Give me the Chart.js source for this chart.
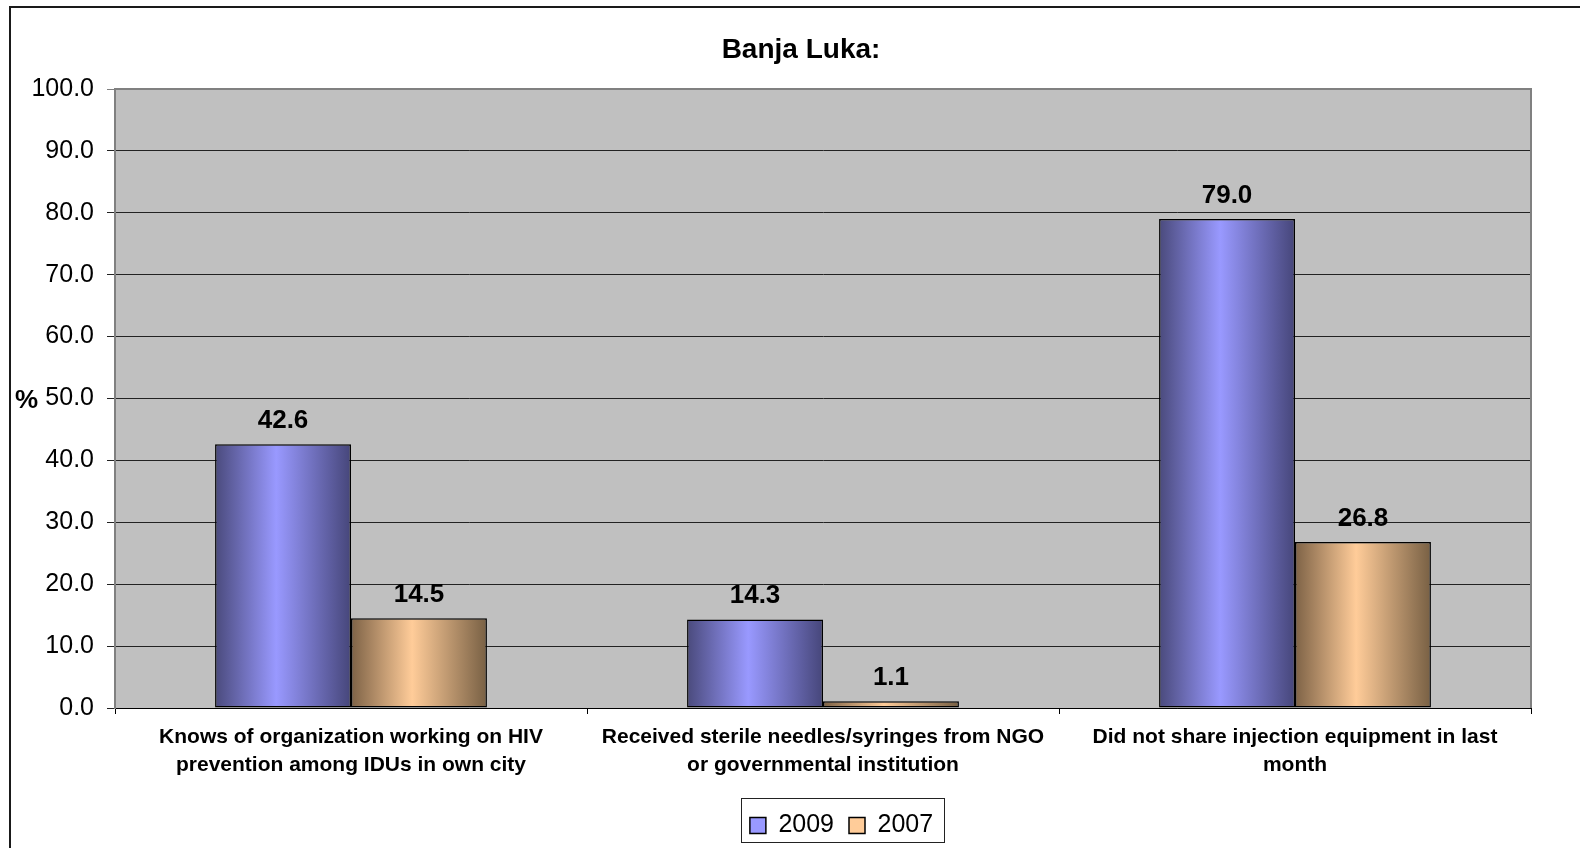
<!DOCTYPE html>
<html><head><meta charset="utf-8">
<script src="https://cdn.jsdelivr.net/npm/chart.js@4/dist/chart.umd.min.js"></script>
<style>html,body{margin:0;padding:0;background:#fff;overflow:hidden;}</style>
</head><body>
<canvas id="c" width="1580" height="848" style="display:block;width:1580px;height:848px"></canvas>
<script>
const categories = [
  ["Knows of organization working on HIV", "prevention among IDUs in own city"],
  ["Received sterile needles/syringes from NGO", "or governmental institution"],
  ["Did not share injection equipment in last", "month"]
];
const seriesNames = ["2009", "2007"];
const values2009 = [42.6, 14.3, 79.0];
const values2007 = [14.5, 1.1, 26.8];
const chartTitle = "Banja Luka:";
const yAxisLabel = "%";
const yMin = 0, yMax = 100, yStep = 10;

const FONT = "'Liberation Sans', Arial, sans-serif";
const baseColors = ["#9999ff", "#ffcc99"];
const gradStops = [
  ["#4a4a7c", "#9999ff", "#46467a"],
  ["#7d6246", "#ffcc99", "#786044"]
];

const decor = {
  id: 'decor',
  beforeDraw(chart) {
    const {ctx, chartArea: a} = chart;
    ctx.save();
    ctx.fillStyle = '#fff';
    ctx.fillRect(0, 0, chart.width, chart.height);
    ctx.strokeStyle = '#1a1a1a';
    ctx.lineWidth = 2;
    ctx.strokeRect(10, 7, chart.width + 40, chart.height + 40);
    ctx.fillStyle = '#c0c0c0';
    ctx.fillRect(a.left, a.top, a.right - a.left, a.bottom - a.top);
    ctx.restore();
  },
  afterLayout(chart) {
    const L = chart.legend;
    if (L) { const d = 841.5 - (L.left + L.right) / 2; L.left += d; L.right += d; }
    const T = chart.titleBlock;
    if (T) { const d2 = 801 - (T.left + T.right) / 2; T.left += d2; T.right += d2; }
  },
  beforeDatasetsDraw(chart) {
    const {ctx, chartArea: a} = chart;
    ctx.save();
    ctx.strokeStyle = '#808080';
    ctx.lineWidth = 2;
    ctx.beginPath();
    ctx.moveTo(a.left, a.top); ctx.lineTo(a.right, a.top); ctx.lineTo(a.right, a.bottom);
    ctx.stroke();
    ctx.restore();
    chart.data.datasets.forEach((ds, di) => {
      const meta = chart.getDatasetMeta(di);
      meta.data.forEach(el => {
        const x0 = el.x - el.width / 2, x1 = el.x + el.width / 2;
        const g = ctx.createLinearGradient(x0, 0, x1, 0);
        const s = gradStops[di];
        g.addColorStop(0, s[0]);
        g.addColorStop(0.45, s[1]);
        g.addColorStop(1, s[2]);
        el.options = Object.assign({}, el.options, {backgroundColor: g});
      });
    });
  },
  afterDatasetsDraw(chart) {
    const {ctx} = chart;
    ctx.save();
    ctx.fillStyle = '#000';
    ctx.font = "bold 26px " + FONT;
    ctx.textAlign = 'center';
    ctx.textBaseline = 'alphabetic';
    chart.data.datasets.forEach((ds, di) => {
      const meta = chart.getDatasetMeta(di);
      meta.data.forEach((el, i) => {
        ctx.fillText(ds.data[i].toFixed(1), el.x, el.y - 16);
      });
    });
    ctx.restore();
  },
  afterDraw(chart) {
    const {ctx} = chart;
    const L = chart.legend;
    ctx.save();
    if (L && L.legendHitBoxes && L.legendHitBoxes.length) {
      const hb = L.legendHitBoxes;
      const left = hb[0].left - 9;
      const last = hb[hb.length - 1];
      const right = last.left + last.width + 11;
      ctx.strokeStyle = '#222';
      ctx.lineWidth = 1;
      ctx.strokeRect(Math.round(left) + 0.5, Math.round(L.top) + 0.5, Math.round(right - left), 44);
    }
    ctx.fillStyle = '#000';
    ctx.font = "bold 26px " + FONT;
    ctx.textAlign = 'left';
    ctx.textBaseline = 'middle';
    const yScale = chart.scales.y;
    ctx.fillText(yAxisLabel, 15, yScale.getPixelForValue((yMin + yMax) / 2) + 2);
    ctx.restore();
  }
};

new Chart(document.getElementById('c'), {
  type: 'bar',
  data: {
    labels: categories,
    datasets: [
      {label: seriesNames[0], data: values2009, backgroundColor: baseColors[0], borderColor: '#000', borderWidth: 1.5, borderSkipped: false},
      {label: seriesNames[1], data: values2007, backgroundColor: baseColors[1], borderColor: '#000', borderWidth: 1.5, borderSkipped: false}
    ]
  },
  options: {
    responsive: false,
    animation: false,
    devicePixelRatio: 1,
    layout: {padding: {left: 0, right: 49, top: 0, bottom: 0}},
    datasets: {bar: {categoryPercentage: 0.576, barPercentage: 1.0}},
    plugins: {
      title: {display: true, text: chartTitle, color: '#000', font: {family: FONT, size: 28, weight: 'bold', lineHeight: 1.2}, padding: {top: 33.5, bottom: 21.9}},
      legend: {
        position: 'bottom',
        labels: {color: '#000', font: {family: FONT, size: 25, lineHeight: 1}, boxWidth: 16, boxHeight: 16, padding: 15}
      },
      tooltip: {enabled: false}
    },
    scales: {
      x: {
        afterFit(s) { s.height = 90; },
        grid: {offset: true, drawOnChartArea: false, color: '#000', tickLength: 6, lineWidth: 1},
        border: {color: '#000', width: 1},
        ticks: {color: '#000', font: {family: FONT, size: 21, weight: 'bold', lineHeight: 1.3}, padding: 10, maxRotation: 0, autoSkip: false}
      },
      y: {
        min: yMin, max: yMax,
        afterFit(s) { s.width = 115; },
        grid: {color: (c) => (c.tick && c.tick.value === yMax) ? '#808080' : '#222', tickLength: 8, lineWidth: 1},
        border: {color: '#808080', width: 2},
        ticks: {stepSize: yStep, color: '#000', font: {family: FONT, size: 25}, padding: 13, callback: (v) => Number(v).toFixed(1)}
      }
    }
  },
  plugins: [decor]
});
</script>
</body></html>
